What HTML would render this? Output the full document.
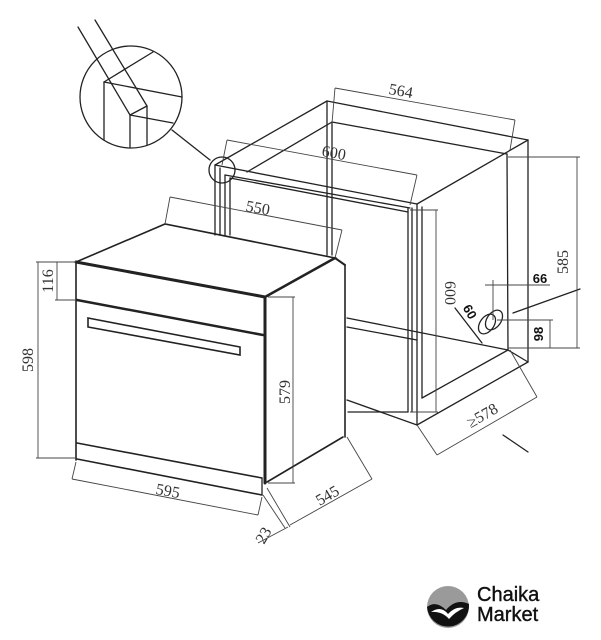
<!DOCTYPE html>
<html><head><meta charset="utf-8"><style>
html,body{margin:0;padding:0;background:#fff;}
svg{display:block}
text{font-family:"Liberation Serif",serif;fill:#333;font-size:16px}
.b{font-family:"Liberation Sans",sans-serif;font-weight:bold;font-size:13px;fill:#111}
</style></head><body>
<svg width="601" height="640" viewBox="0 0 601 640" xmlns="http://www.w3.org/2000/svg">
<g fill="none" stroke="#222" stroke-width="1.3" stroke-linecap="round">
<circle cx="131" cy="97" r="51"/>
<line x1="78" y1="27" x2="130" y2="115"/>
<line x1="95" y1="20" x2="147" y2="106"/>
<line x1="130" y1="115" x2="147" y2="106"/>
<line x1="104" y1="82" x2="104" y2="140"/>
<line x1="130" y1="115" x2="130" y2="147"/>
<line x1="147" y1="106" x2="147" y2="145"/>
<line x1="104" y1="82" x2="182" y2="97"/>
<line x1="130" y1="115" x2="173" y2="123"/>
<line x1="104" y1="82" x2="153" y2="52"/>
<line x1="172" y1="130" x2="210" y2="160"/>
<circle cx="222" cy="170" r="13"/>
<line x1="215" y1="165" x2="327" y2="101"/>
<line x1="247" y1="172" x2="332" y2="122"/>
<line x1="327" y1="101" x2="528" y2="140"/>
<line x1="332" y1="122" x2="507" y2="154"/>
<line x1="327" y1="101" x2="327" y2="255"/>
<line x1="332" y1="122" x2="332" y2="255"/>
<line x1="215" y1="165" x2="417" y2="204"/>
<line x1="225" y1="175" x2="410" y2="208"/>
<line x1="230" y1="178" x2="408" y2="212"/>
<line x1="215" y1="165" x2="215" y2="235"/>
<line x1="220" y1="168" x2="220" y2="235"/>
<line x1="225" y1="175" x2="225" y2="235"/>
<line x1="230" y1="178" x2="230" y2="235"/>
<line x1="417" y1="204" x2="528" y2="140"/>
<line x1="417" y1="204" x2="417" y2="425"/>
<line x1="408" y1="208" x2="408" y2="412"/>
<line x1="412" y1="208" x2="412" y2="412"/>
<line x1="422" y1="207" x2="422" y2="398"/>
<line x1="528" y1="140" x2="528" y2="362"/>
<line x1="507" y1="154" x2="508" y2="350"/>
<line x1="417" y1="425" x2="528" y2="362"/>
<line x1="422" y1="398" x2="508" y2="350"/>
<line x1="347" y1="318" x2="508" y2="350"/>
<line x1="347" y1="327" x2="417" y2="340"/>
<line x1="347" y1="400" x2="417" y2="425"/>
<line x1="348" y1="412" x2="408" y2="412"/>
<line x1="508" y1="350" x2="528" y2="362"/>
<ellipse cx="487" cy="324" rx="7" ry="11" transform="rotate(35 487 324)"/>
<ellipse cx="494" cy="320" rx="7" ry="11" transform="rotate(35 494 320)"/>
<line x1="455" y1="308" x2="482" y2="343"/>
<line x1="513" y1="313" x2="580" y2="289"/>
<line x1="503" y1="435" x2="528" y2="452"/>
<polygon points="76,262 165,224 335,258 265,297" stroke-width="1.6"/>
<line x1="76" y1="262" x2="265" y2="297" stroke-width="3"/>
<line x1="76" y1="262" x2="76" y2="460" stroke-width="1.6"/>
<line x1="77" y1="300" x2="263" y2="335" stroke-width="2.5"/>
<line x1="77" y1="443" x2="262" y2="478" stroke-width="1.6"/>
<line x1="77" y1="459" x2="262" y2="495" stroke-width="1.6"/>
<line x1="262" y1="478" x2="262" y2="495"/>
<polygon points="88,318 240,347 240,355 88,327" stroke-width="1.6"/>
<line x1="265" y1="297" x2="265" y2="483" stroke-width="3"/>
<line x1="265" y1="297" x2="335" y2="258" stroke-width="2.5"/>
<line x1="335" y1="258" x2="345" y2="265" stroke-width="2"/>
<line x1="345" y1="265" x2="345" y2="437" stroke-width="1.6"/>
<line x1="267" y1="482" x2="343" y2="437" stroke-width="1.6"/>
</g>
<g fill="none" stroke="#444" stroke-width="0.9">
<line x1="335" y1="88" x2="515" y2="120"/><line x1="335" y1="88" x2="332" y2="123"/><line x1="515" y1="120" x2="510" y2="150"/>
<line x1="227" y1="140" x2="417" y2="175"/><line x1="227" y1="140" x2="222" y2="165"/><line x1="417" y1="175" x2="410" y2="205"/>
<line x1="170" y1="197" x2="342" y2="230"/><line x1="170" y1="197" x2="165" y2="224"/><line x1="342" y1="230" x2="335" y2="258"/>
<line x1="436" y1="210" x2="436" y2="412"/><line x1="410" y1="210" x2="438" y2="210"/><line x1="410" y1="412" x2="438" y2="412"/>
<line x1="577" y1="157" x2="577" y2="348"/><line x1="508" y1="157" x2="580" y2="157"/><line x1="508" y1="348" x2="580" y2="348"/>
<line x1="485" y1="285" x2="550" y2="285"/><line x1="493" y1="280" x2="493" y2="320"/>
<line x1="497" y1="320" x2="553" y2="320"/><line x1="550" y1="320" x2="550" y2="348"/>
<line x1="437" y1="455" x2="537" y2="397"/><line x1="417" y1="425" x2="437" y2="455"/><line x1="510" y1="350" x2="537" y2="397"/>
<line x1="57" y1="262" x2="57" y2="300"/><line x1="55" y1="262" x2="76" y2="262"/><line x1="55" y1="300" x2="76" y2="300"/>
<line x1="38" y1="262" x2="38" y2="458"/><line x1="36" y1="262" x2="57" y2="262"/><line x1="36" y1="458" x2="76" y2="458"/>
<line x1="293" y1="297" x2="293" y2="483"/><line x1="268" y1="297" x2="295" y2="297"/><line x1="268" y1="483" x2="295" y2="483"/>
<line x1="72" y1="479" x2="258" y2="515"/><line x1="72" y1="479" x2="76" y2="462"/><line x1="258" y1="515" x2="262" y2="497"/>
<line x1="290" y1="525" x2="372" y2="479"/><line x1="347" y1="437" x2="372" y2="479"/>
<line x1="267" y1="488" x2="290" y2="527"/><line x1="263" y1="495" x2="285" y2="528"/><line x1="258" y1="543" x2="288" y2="527"/>
</g>
<text x="400" y="96" transform="rotate(10 400 96)" text-anchor="middle">564</text>
<text x="333" y="158" transform="rotate(10 333 158)" text-anchor="middle">600</text>
<text x="257" y="213" transform="rotate(10 257 213)" text-anchor="middle">550</text>
<text x="445" y="293" transform="rotate(90 445 293)" text-anchor="middle">600</text>
<text x="568" y="262" transform="rotate(-90 568 262)" text-anchor="middle">585</text>
<text class="b" x="540" y="283" text-anchor="middle">66</text>
<text class="b" x="543" y="334" transform="rotate(-90 543 334)" text-anchor="middle">98</text>
<text class="b" x="466" y="314" transform="rotate(60 466 314)" text-anchor="middle">60</text>
<text x="485" y="420" transform="rotate(-30 485 420)" text-anchor="middle">≥578</text>
<text x="53" y="281" transform="rotate(-90 53 281)" text-anchor="middle">116</text>
<text x="33" y="360" transform="rotate(-90 33 360)" text-anchor="middle">598</text>
<text x="290" y="392" transform="rotate(-90 290 392)" text-anchor="middle">579</text>
<text x="167" y="496" transform="rotate(10 167 496)" text-anchor="middle">595</text>
<text x="330" y="500" transform="rotate(-30 330 500)" text-anchor="middle">545</text>
<text x="268" y="538" transform="rotate(-60 268 538)" text-anchor="middle">23</text>
<circle cx="448" cy="607" r="21" fill="#9a9a9a"/>
<path d="M427,607 Q436,600 446,610 Q456,598 469,604 A21,21 0 0 1 427,607 Z" fill="#111"/>
<path d="M431,612 Q441,605 448,614 Q455,606 464,608 Q455,612 449,619 Q442,611 431,612 Z" fill="#fff"/>
<text x="477" y="601" style="font-family:'Liberation Sans',sans-serif;font-size:20px;fill:#111;stroke:#111;stroke-width:0.4">Chaika</text>
<text x="477" y="621" style="font-family:'Liberation Sans',sans-serif;font-size:20px;fill:#111;stroke:#111;stroke-width:0.4">Market</text>
</svg>
</body></html>
